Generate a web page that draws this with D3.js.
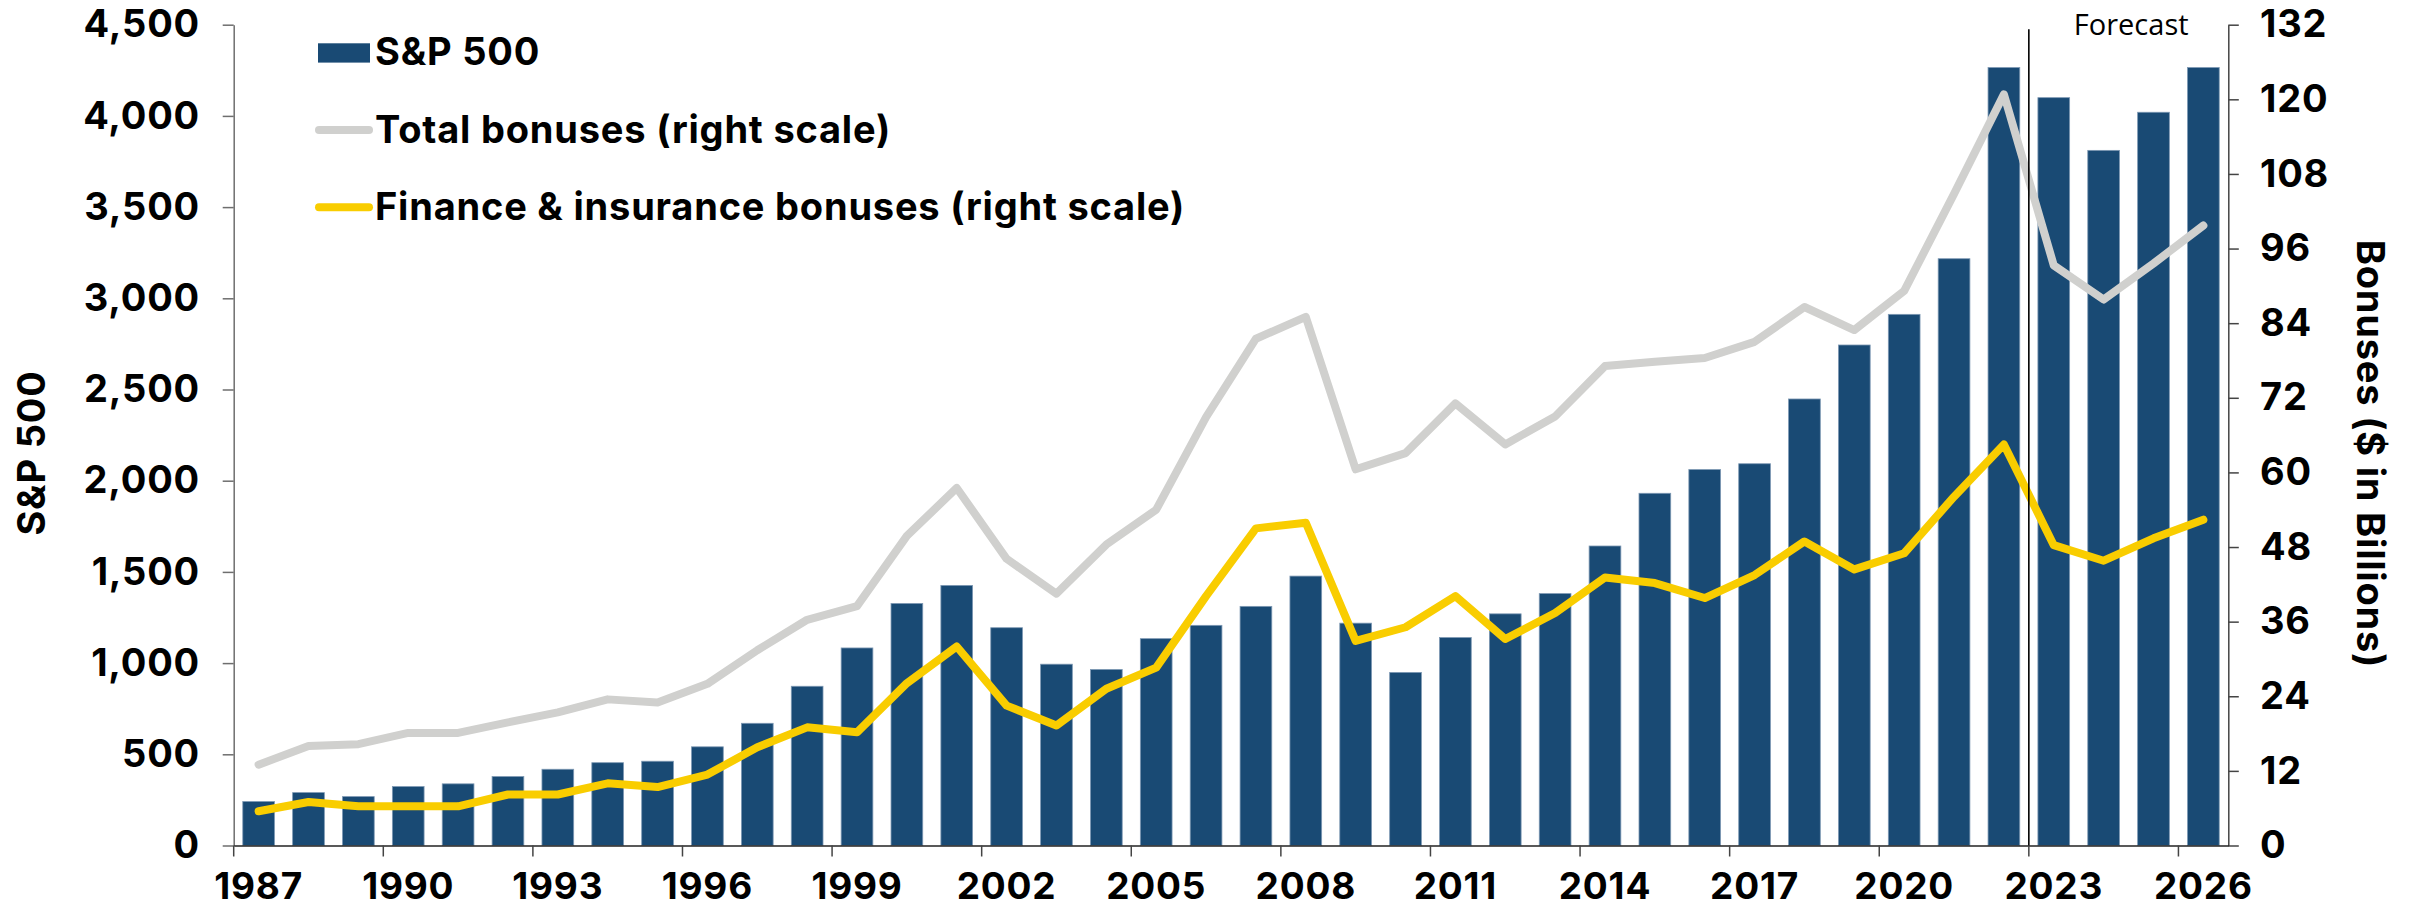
<!DOCTYPE html>
<html>
<head>
<meta charset="utf-8">
<script src="https://cdn.jsdelivr.net/npm/d3@7"></script>
<style>
  body { margin: 0; background: #fff; }
  text { font-family: Inter, "Open Sans", sans-serif; font-weight: 700; fill: #000; letter-spacing: 0.8px; }
</style>
</head>
<body>
<div id="chart"></div>
<script>
// Data
const years = d3.range(1987, 2027);
const sp500 = [241, 290, 268, 323, 338, 378, 418, 454, 462, 541,
  670, 873, 1083, 1327, 1426, 1194, 994, 965, 1134, 1207,
  1311, 1477, 1219, 949, 1140, 1270, 1381, 1642, 1931, 2061,
  2093, 2448, 2744, 2912, 3217, 4265, 4100, 3811, 4020, 4265];
const totalBonuses = [13.0, 16.0, 16.3, 18.1, 18.1, 19.8, 21.4, 23.5, 23.0, 26.0,
  31.4, 36.3, 38.5, 49.8, 57.5, 46.1, 40.5, 48.4, 54.0, 68.9,
  81.5, 85.0, 60.5, 63.1, 71.1, 64.5, 69.0, 77.1, 77.8, 78.4,
  81.0, 86.6, 82.9, 89.2, 104.8, 120.8, 93.3, 87.8, 93.6, 99.7];
const financeBonuses = [5.5, 7.0, 6.3, 6.3, 6.3, 8.2, 8.2, 10.0, 9.4, 11.4,
  15.8, 19.0, 18.2, 26.1, 32.0, 22.5, 19.3, 25.2, 28.6, 40.1,
  51.0, 51.9, 32.9, 35.1, 40.1, 33.2, 37.4, 43.1, 42.2, 39.8,
  43.5, 48.9, 44.4, 47.0, 56.1, 64.5, 48.3, 45.8, 49.4, 52.4];
const leftTicks = d3.range(0, 4501, 500);
const rightTicks = d3.range(0, 133, 12);
const xLabelYears = d3.range(1987, 2027, 3);
const forecastStart = 2023;
const legendLabels = ["S&P 500", "Total bonuses (right scale)", "Finance & insurance bonuses (right scale)"];

const barColor = "#194a74";
const grayColor = "#d0d0ce";
const yellowColor = "#f9cd00";

// Step 1. svg area
const svgWidth = 2425;
const svgHeight = 908;
const margin = { top: 24.7, right: 196.7, bottom: 62.5, left: 233.7 };
const width = svgWidth - margin.left - margin.right;
const height = svgHeight - margin.top - margin.bottom;

const svg = d3.select("#chart")
  .append("svg")
  .attr("width", svgWidth)
  .attr("height", svgHeight);

const chartGroup = svg.append("g")
  .attr("transform", `translate(${margin.left}, ${margin.top})`);

// Step 2. scales
const xBand = d3.scaleBand()
  .domain(years)
  .range([0, width])
  .padding(0);
const bw = xBand.bandwidth();
const barW = bw * 0.636;

const yLeft = d3.scaleLinear().domain([0, 4500]).range([height, 0]);
const yRight = d3.scaleLinear().domain([0, 132]).range([height, 0]);

// Step 3. bars
chartGroup.selectAll(".bar")
  .data(years)
  .enter()
  .append("rect")
  .attr("class", "bar")
  .attr("x", (d, i) => xBand(d) + (bw - barW) / 2)
  .attr("y", (d, i) => yLeft(sp500[i]))
  .attr("width", barW)
  .attr("height", (d, i) => height - yLeft(sp500[i]))
  .attr("fill", barColor)
  .attr("stroke", "#7d98b3")
  .attr("stroke-width", 0.8);

// Step 4. lines on right scale
const line = d3.line()
  .x(d => xBand(d.year) + bw / 2)
  .y(d => yRight(d.value));

chartGroup.append("path")
  .datum(years.map((y, i) => ({ year: y, value: totalBonuses[i] })))
  .attr("d", line)
  .attr("fill", "none")
  .attr("stroke", grayColor)
  .attr("stroke-width", 8)
  .attr("stroke-linejoin", "round")
  .attr("stroke-linecap", "round");

chartGroup.append("path")
  .datum(years.map((y, i) => ({ year: y, value: financeBonuses[i] })))
  .attr("d", line)
  .attr("fill", "none")
  .attr("stroke", yellowColor)
  .attr("stroke-width", 8)
  .attr("stroke-linejoin", "round")
  .attr("stroke-linecap", "round");

// Step 5. axes
const leftAxis = d3.axisLeft(yLeft)
  .tickValues(leftTicks)
  .tickSize(11)
  .tickSizeOuter(0)
  .tickPadding(22.7)
  .tickFormat(d3.format(","));

const gLeft = chartGroup.append("g").call(leftAxis);
gLeft.select(".domain").attr("stroke", "#6e6e6e").attr("stroke-width", 1.5);
gLeft.selectAll(".tick line").attr("stroke", "#6e6e6e").attr("stroke-width", 1.5);
gLeft.selectAll("text").style("font-size", "38px");

const rightAxis = d3.axisRight(yRight)
  .tickValues(rightTicks)
  .tickSize(10.5)
  .tickSizeOuter(0)
  .tickPadding(21.2);

const gRight = chartGroup.append("g")
  .attr("transform", `translate(${width}, 0)`)
  .call(rightAxis);
gRight.select(".domain").attr("stroke", "#444").attr("stroke-width", 1.5);
gRight.selectAll(".tick line").attr("stroke", "#444").attr("stroke-width", 1.5);
gRight.selectAll("text").style("font-size", "38px");

const bottomAxis = d3.axisBottom(xBand)
  .tickValues(xLabelYears)
  .tickSize(11)
  .tickSizeOuter(0);

const gBottom = chartGroup.append("g")
  .attr("transform", `translate(0, ${height})`)
  .call(bottomAxis);
gBottom.select(".domain").attr("stroke", "#222").attr("stroke-width", 1.5);
// tick marks sit on the left edge of each labelled band
gBottom.selectAll(".tick line")
  .attr("x1", -bw / 2).attr("x2", -bw / 2)
  .attr("stroke", "#444").attr("stroke-width", 1.5);
gBottom.selectAll("text")
  .attr("dy", null)
  .attr("y", 53)
  .style("font-size", "37px");

// forecast divider
chartGroup.append("line")
  .attr("x1", xBand(forecastStart))
  .attr("x2", xBand(forecastStart))
  .attr("y1", 4.6)
  .attr("y2", height)
  .attr("stroke", "#000")
  .attr("stroke-width", 1.6);

chartGroup.append("text")
  .attr("x", xBand(forecastStart) + 45)
  .attr("y", 35 - margin.top)
  .style("font-family", "'Open Sans', sans-serif")
  .style("font-weight", 400)
  .style("letter-spacing", "0px")
  .style("font-size", "29px")
  .text("Forecast");

// axis titles
svg.append("text")
  .attr("transform", "translate(31, 453) rotate(-90)")
  .attr("text-anchor", "middle")
  .attr("dominant-baseline", "central")
  .style("font-size", "38px")
  .text("S&P 500");

svg.append("text")
  .attr("transform", "translate(2371, 454) rotate(90)")
  .attr("text-anchor", "middle")
  .attr("dominant-baseline", "central")
  .style("font-size", "38px")
  .text("Bonuses ($ in Billions)");

// Step 6. legend
const legend = svg.append("g");

legend.append("rect")
  .attr("x", 318)
  .attr("y", 43.3)
  .attr("width", 52)
  .attr("height", 19.3)
  .attr("fill", barColor);

legend.append("line")
  .attr("x1", 319).attr("x2", 369)
  .attr("y1", 130).attr("y2", 130)
  .attr("stroke", grayColor)
  .attr("stroke-width", 8)
  .attr("stroke-linecap", "round");

legend.append("line")
  .attr("x1", 319).attr("x2", 369)
  .attr("y1", 207.3).attr("y2", 207.3)
  .attr("stroke", yellowColor)
  .attr("stroke-width", 8)
  .attr("stroke-linecap", "round");

legend.selectAll(".legtext")
  .data(legendLabels)
  .enter()
  .append("text")
  .attr("class", "legtext")
  .attr("x", 375)
  .attr("y", (d, i) => 65 + i * 77.5)
  .style("font-size", "38px")
  .text(d => d);
</script>
</body>
</html>
